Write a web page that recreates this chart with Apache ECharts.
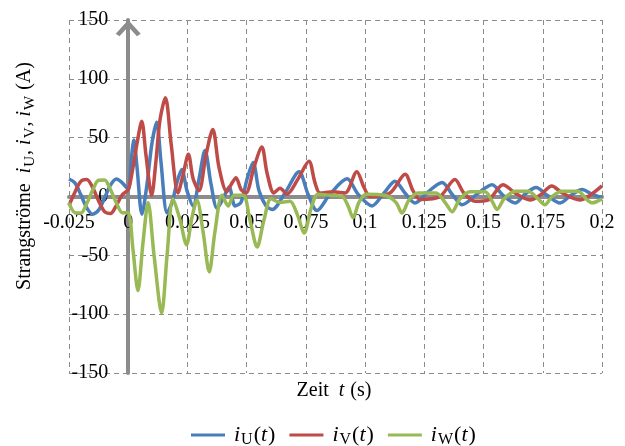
<!DOCTYPE html>
<html>
<head>
<meta charset="utf-8">
<script src="https://cdn.jsdelivr.net/npm/echarts@6/dist/echarts.min.js"></script>
<style>html,body{margin:0;padding:0;background:#fff;}#c{width:625px;height:446px;}</style>
</head>
<body>
<div id="c"></div>
<script>
// ---- data ----
var xTicks = [-0.025, 0, 0.025, 0.05, 0.075, 0.1, 0.125, 0.15, 0.175, 0.2];
var yTicks = [-150, -100, -50, 0, 50, 100, 150];

var preTime = [-0.025, -0.0225, -0.02, -0.0175, -0.015, -0.0125, -0.01, -0.0075, -0.005, -0.0025];
var preU = [14.9, 11.6, 1.4, -9.6, -15, -11.6, -1.4, 9.6, 14.9, 11.6];
var preV = [-7.6, 3.7, 12.9, 14.5, 7.6, -3.7, -12.9, -14.5, -7.6, 1.5];
var preW = [-5.5, -13.8, -14, -6, 5.5, 13.8, 14, 6, -5.5, -13.8];

var uTime = [0, 0.0012, 0.0024, 0.0037, 0.0058, 0.0079, 0.0100, 0.0120, 0.0138, 0.0164, 0.0185, 0.0206, 0.0226, 0.0248, 0.0274, 0.0299, 0.0324, 0.0350, 0.0375, 0.0400, 0.0426, 0.0451, 0.0476, 0.0502, 0.0527, 0.0552, 0.0582, 0.0608, 0.0662, 0.0721, 0.0759, 0.0797, 0.0852, 0.0924, 0.0970, 0.1029, 0.1080, 0.1126, 0.1168, 0.1211, 0.1266, 0.1325, 0.1367, 0.1409, 0.1472, 0.1536, 0.1582, 0.1633, 0.1675, 0.1722, 0.1768, 0.1823, 0.1869, 0.1916, 0.1958, 0.2];
var uVals = [6, 30, 48, 25, -15, 10, 45, 63, 30, -14, -5, 12, 23, 5, -8, 15, 39, 10, -10, -2, 8, -8, -5, 15, 29, 5, -8, -11, 3, 21, 2, -12, 2, 15, 2, -8, 3, 13, 3, -5.5, 4, 12, 2, -7, 2, 10, 1, -5.5, 2, 7.6, 1, -5.5, 1, 6, 2, -1];

var vTime = [0, 0.0016, 0.0037, 0.0057, 0.0075, 0.0099, 0.0117, 0.0134, 0.0157, 0.0181, 0.0210, 0.0231, 0.0254, 0.0274, 0.0299, 0.0328, 0.0357, 0.0383, 0.0416, 0.0434, 0.0455, 0.0476, 0.0497, 0.0531, 0.0564, 0.0586, 0.0615, 0.0641, 0.0670, 0.0717, 0.0763, 0.0788, 0.0810, 0.0865, 0.0915, 0.0965, 0.0995, 0.1021, 0.1105, 0.1169, 0.1202, 0.1232, 0.1316, 0.1379, 0.1417, 0.1464, 0.1519, 0.1582, 0.1633, 0.1696, 0.1738, 0.1788, 0.1832, 0.1907, 0.1949, 0.2];
var vVals = [6, 20, 45, 64, 35, 1, 30, 65, 84, 45, 3, 18, 36, 15, 5, 35, 57, 25, 4, 10, 16, 6, 3, 25, 42, 20, 3, 7, 2, 15, 30, 12, 3, 4, 3, 21, 8, 0, 3, 19, 5, -2.5, 0, 14.4, 3, -4, -3, 10, 3, -3, 1, 9, 3, -3, 1, 9];

var wTime = [0, 0.0020, 0.0041, 0.0062, 0.0084, 0.0109, 0.0141, 0.0164, 0.0189, 0.0219, 0.0246, 0.0269, 0.0290, 0.0316, 0.0342, 0.0366, 0.0396, 0.0422, 0.0447, 0.0485, 0.0514, 0.0544, 0.0573, 0.0603, 0.0641, 0.0683, 0.0713, 0.0743, 0.0772, 0.0801, 0.0852, 0.0903, 0.0928, 0.0949, 0.0974, 0.1004, 0.1084, 0.1130, 0.1156, 0.1185, 0.1223, 0.1299, 0.1341, 0.1367, 0.1400, 0.1443, 0.1506, 0.1536, 0.1557, 0.1587, 0.1633, 0.1688, 0.1730, 0.1759, 0.1789, 0.1831, 0.1899, 0.1933, 0.1958, 0.2];
var wVals = [-14, -45, -80, -40, -5, -50, -99, -50, -2, -20, -41, -18, -3, -30, -64, -30, 1, -8, 1, 1, -20, -43, -20, -2, -5, -4, -15, -31, -10, 2, 1, 0, -8, -18, -5, 2, 1, -5, -14, -3, 3, 3, -6, -13, -2, 4, 4, -4, -11, -2, 4.5, 4.5, -2, -7, 0, 4.5, 4.5, -2, -5.4, -2];

var seriesNames = ['U', 'V', 'W'];
var seriesColors = ['#4A7EBB', '#BE4B48', '#98B954'];

function pairs(t1, v1, t2, v2) {
  var out = [];
  for (var i = 0; i < t1.length; i++) out.push([t1[i], v1[i]]);
  for (var j = 0; j < t2.length; j++) out.push([t2[j], v2[j]]);
  return out;
}
var dataSets = [pairs(preTime, preU, uTime, uVals), pairs(preTime, preV, vTime, vVals), pairs(preTime, preW, wTime, wVals)];

var FONT = '"Liberation Serif", "Times New Roman", serif';
function rich(sz, subSz, subPad) {
  return {
    n: {fontFamily: FONT, fontSize: sz, color: '#000'},
    i: {fontFamily: FONT, fontSize: sz, fontStyle: 'italic', color: '#000', padding: [0, 1, 0, 0]},
    s: {fontFamily: FONT, fontSize: subSz, color: '#000', padding: [subPad, 1, 0, 0]}
  };
}

var GRID = {left: 69, top: 20, width: 533, height: 353};
var chart = echarts.init(document.getElementById('c'), null, {renderer: 'canvas'});
var option = {
  animation: false,
  backgroundColor: '#fff',
  grid: GRID,
  xAxis: {
    type: 'value', min: xTicks[0], max: xTicks[xTicks.length - 1], interval: 0.025,
    offset: -GRID.height / 2,
    axisLine: {show: true, onZero: false, lineStyle: {color: '#8C8C8C', width: 4}},
    axisTick: {show: false},
    axisLabel: {
      margin: 16, color: '#000', fontFamily: FONT, fontSize: 20,
      formatter: function (v) { return String(parseFloat(v.toFixed(4))); }
    },
    splitLine: {show: true, lineStyle: {color: '#8C8C8C', type: [5, 4], width: 1}}
  },
  yAxis: {
    type: 'value', min: yTicks[0], max: yTicks[yTicks.length - 1], interval: 50,
    offset: -GRID.width * 0.025 / 0.225,
    axisLine: {
      show: true, onZero: false, lineStyle: {color: '#8C8C8C', width: 4},
      symbol: ['none', 'path://M0,11 L10,0 L20,11 L17,13 L10,5.5 L3,13 Z'],
      symbolSize: [25, 18], symbolOffset: [0, -8]
    },
    axisTick: {show: false},
    axisLabel: {margin: 20, color: '#000', fontFamily: FONT, fontSize: 20},
    splitLine: {show: true, lineStyle: {color: '#8C8C8C', type: [5, 4], width: 1}}
  },
  legend: {
    left: 186, top: 419, itemWidth: 34, itemHeight: 3, itemGap: 14, icon: 'rect',
    data: seriesNames,
    formatter: function (n) { return '{i|i}{s|' + n + '}{n|(}{i|t}{n|)}'; },
    textStyle: {rich: rich(22, 16, 10), padding: [0, 0, 0, 4]}
  },
  graphic: [
    {
      type: 'text', x: 25, y: 176, rotation: Math.PI / 2,
      style: {
        text: '{n|Strangströme  }{i|i}{s|U}{n|, }{i|i}{s|V}{n|, }{i|i}{s|W}{n| (A)}',
        rich: rich(20, 15, 10), align: 'center', verticalAlign: 'middle'
      }
    },
    {
      type: 'text', x: 334, y: 391,
      style: {
        text: '{n|Zeit  }{i|t}{n| (s)}',
        rich: rich(20, 15, 10), align: 'center', verticalAlign: 'middle'
      }
    }
  ],
  series: seriesNames.map(function (n, k) {
    return {
      name: n, type: 'line', data: dataSets[k], showSymbol: false, symbol: 'none',
      smooth: 0.3,
      lineStyle: {color: seriesColors[k], width: 3.5}, itemStyle: {color: seriesColors[k]},
      z: 3 + k
    };
  })
};
chart.setOption(option);
</script>
</body>
</html>
